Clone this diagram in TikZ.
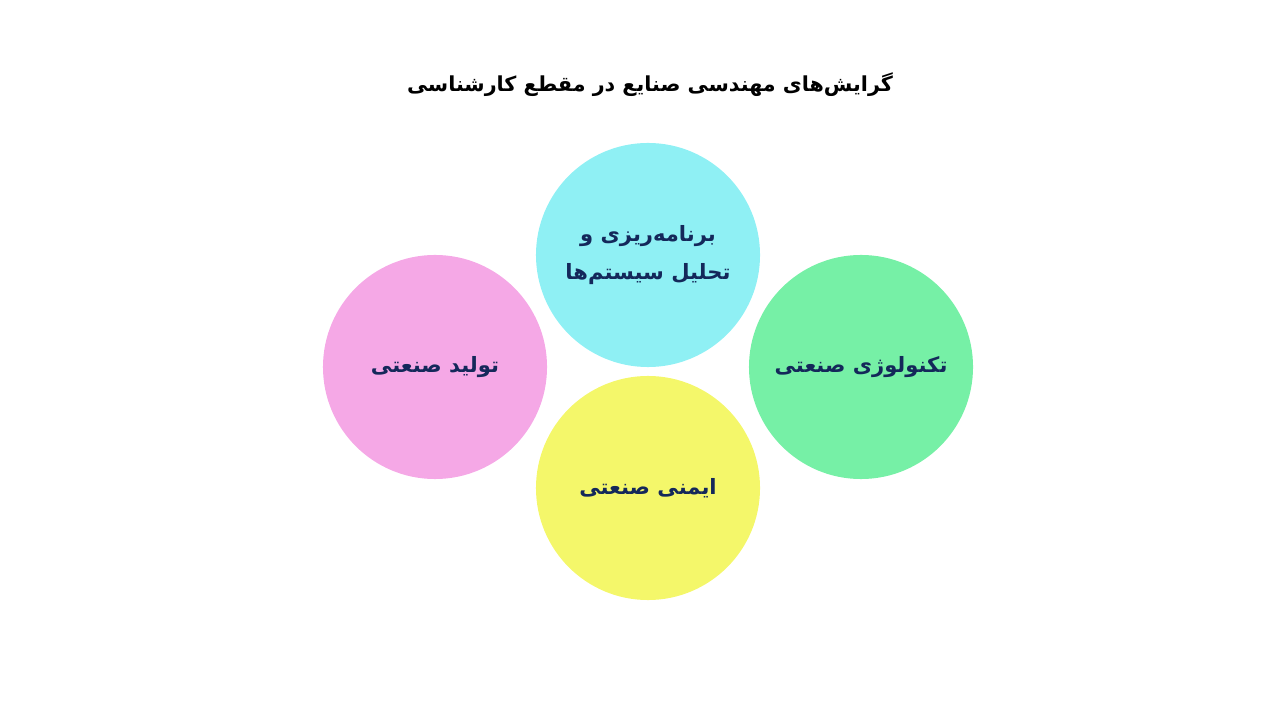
\documentclass[tikz,border=0pt]{standalone}
\usepackage{fontspec}
\newfontfamily\arabicfont[Script=Arabic]{DejaVu Sans}
\TeXXeTstate=1
\definecolor{cyanfill}{HTML}{8FF0F4}
\definecolor{pinkfill}{HTML}{F5A8E6}
\definecolor{greenfill}{HTML}{76F0A6}
\definecolor{yellowfill}{HTML}{F4F76A}
\definecolor{navytext}{HTML}{14285A}

\begin{document}
\begin{tikzpicture}[x=0.025cm, y=-0.025cm]
\tikzset{
  branch/.style={
    circle, fill=#1, minimum size=5.6cm, inner sep=0pt,
    align=center, text=navytext,
    font=\arabicfont\bfseries\fontsize{15}{27}\selectfont
  }
}
\useasboundingbox (0,0) rectangle (1280,720);

% Title
\node[font=\arabicfont\bfseries\fontsize{14.7}{18}\selectfont] (title) at (650, 85)
  {\beginR گرایش‌های مهندسی صنایع در مقطع کارشناسی\endR};

% Nodes
\node[branch=cyanfill]   (planning)   at (648, 255) {\beginR برنامه‌ریزی و\endR\\\beginR تحلیل سیستم‌ها\endR};
\node[branch=pinkfill]   (production) at (435, 367) {\beginR تولید صنعتی\endR};
\node[branch=greenfill]  (technology) at (861, 367) {\beginR تکنولوژی صنعتی\endR};
\node[branch=yellowfill] (safety)     at (648, 488) {\beginR ایمنی صنعتی\endR};

\end{tikzpicture}
\end{document}
